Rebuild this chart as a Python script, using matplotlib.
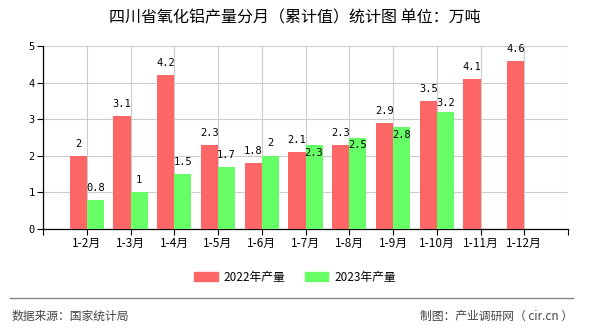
import numpy as np
import matplotlib
matplotlib.use('Agg')
import matplotlib.pyplot as plt
from matplotlib.patches import Patch

plt.rcParams['font.family'] = ['Noto Sans CJK SC', 'DejaVu Sans']

# data
months = ['1-2月', '1-3月', '1-4月', '1-5月', '1-6月', '1-7月', '1-8月', '1-9月', '1-10月', '1-11月', '1-12月']
y2022 = [2, 3.1, 4.2, 2.3, 1.8, 2.1, 2.3, 2.9, 3.5, 4.1, 4.6]
y2023 = [0.8, 1, 1.5, 1.7, 2, 2.3, 2.5, 2.8, 3.2, None, None]

# label offsets (pixels) for the 2023 labels, some are pushed inside the bar
lab23_off = [12, 12, 12, 12, 13, -8, -8, -8, 9, 0, 0]

red = '#ff6666'
green = '#66ff66'

fig = plt.figure(figsize=(5.9, 3.3), dpi=100)
ax = fig.add_axes([43/590, 1-229/330, (568-43)/590, (229-46)/330])

x = np.arange(1, len(months)+1)
w = 0.39
ax.bar(x - w/2, y2022, width=w, color=red, zorder=3)
v23 = [np.nan if v is None else v for v in y2023]
ax.bar(x + w/2, v23, width=w, color=green, zorder=3)

mono = ['DejaVu Sans Mono']
for i, v in enumerate(y2022):
    ax.annotate('%g' % v, (x[i] - w/2, v), xytext=(0, 12), textcoords='offset pixels',
                ha='center', va='center', fontsize=7.5, family=mono, zorder=4)
for i, v in enumerate(y2023):
    if v is None:
        continue
    ax.annotate('%g' % v, (x[i] + w/2, v), xytext=(0, lab23_off[i]), textcoords='offset pixels',
                ha='center', va='center', fontsize=7.5, family=mono, zorder=4)

ax.set_xlim(0, 12)
ax.set_ylim(0, 5)
ax.set_xticks(np.arange(0, 13))
ax.set_xticklabels([''] + months + [''], fontsize=8.5)
ax.set_yticks(range(6))
ax.set_yticklabels([str(i) for i in range(6)], fontsize=7.5, family=mono)
ax.tick_params(axis='both', length=4, width=0.8, pad=2, colors='black')
ax.grid(True, color='#cccccc', linewidth=0.8, zorder=0)
for s in ['top', 'right']:
    ax.spines[s].set_visible(False)
ax.spines['left'].set_linewidth(0.9)
ax.spines['bottom'].set_linewidth(0.9)

fig.text(0.5, 1-18/330, '四川省氧化铝产量分月（累计值）统计图 单位：万吨', ha='center', va='center', fontsize=11.5)

handles = [Patch(color=red, label='2022年产量'), Patch(color=green, label='2023年产量')]
fig.legend(handles=handles, loc='center', bbox_to_anchor=(0.5, 1-277/330), ncol=2, frameon=False,
           fontsize=8.5, handlelength=2.0, handleheight=0.7, handletextpad=0.5, columnspacing=1.6)

fig.add_artist(plt.Line2D([10/590, 573/590], [1-298/330, 1-298/330], color='#888888', linewidth=1))
fig.text(12/590, 1-316/330, '数据来源：国家统计局', ha='left', va='center', fontsize=8.5, color='#444444')
fig.text(573/590, 1-316/330, '制图：产业调研网（ cir.cn ）', ha='right', va='center', fontsize=8.5, color='#444444')

fig.savefig('out.png', dpi=100)
